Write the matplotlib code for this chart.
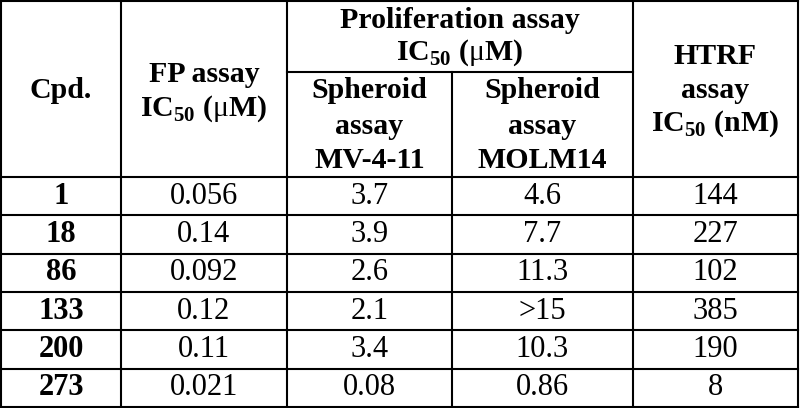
import matplotlib.pyplot as plt

plt.rcParams['font.family'] = ['Liberation Serif', 'DejaVu Serif']
plt.rcParams['mathtext.fontset'] = 'custom'
plt.rcParams['mathtext.rm'] = 'Liberation Serif'
plt.rcParams['mathtext.bf'] = 'Liberation Serif:bold'

# table data
compounds = ["1", "18", "86", "133", "200", "273"]
fp_ic50 = ["0.056", "0.14", "0.092", "0.12", "0.11", "0.021"]
spheroid_mv411 = ["3.7", "3.9", "2.6", "2.1", "3.4", "0.08"]
spheroid_molm14 = ["4.6", "7.7", "11.3", ">15", "10.3", "0.86"]
htrf_ic50 = ["144", "227", "102", "385", "190", "8"]

# header lines
head_cpd = ["Cpd."]
head_fp = ["FP assay", r"IC$_{\mathbf{50}}$ ($\mathrm{\mu}$M)"]
head_prolif = ["Proliferation assay", r"IC$_{\mathbf{50}}$ ($\mathrm{\mu}$M)"]
head_mv = ["Spheroid", "assay", "MV-4-11"]
head_molm = ["Spheroid", "assay", "MOLM14"]
head_htrf = ["HTRF", "assay", r"IC$_{\mathbf{50}}$ (nM)"]

# layout (pixel coordinates)
xs = [1, 121, 287, 452, 633, 798]
top, mid, hb = 1, 72, 177
row_h = 38.3
fs_head = 21.5
fs_body = 22
lw = 1.5

fig = plt.figure(figsize=(8, 4.08), dpi=100)
ax = fig.add_axes([0, 0, 1, 1])
ax.set_xlim(0, 800)
ax.set_ylim(408, 0)
ax.axis("off")

n = len(compounds)
bottom = hb + n * row_h

# outer and column lines
for x in xs:
    if x in (xs[3],):
        ax.plot([x, x], [mid, bottom], color="black", lw=lw)
    else:
        ax.plot([x, x], [top, bottom], color="black", lw=lw)
ax.plot([xs[0], xs[-1]], [top, top], color="black", lw=lw)
ax.plot([xs[2], xs[4]], [mid, mid], color="black", lw=lw)
for i in range(n + 1):
    y = hb + i * row_h
    ax.plot([xs[0], xs[-1]], [y, y], color="black", lw=lw)

def cell_lines(lines, cx, ys):
    for txt, y in zip(lines, ys):
        ax.text(cx, y, txt, ha="center", va="center", fontsize=fs_head,
                fontweight="bold")

def cx(i):
    return (xs[i] + xs[i + 1]) / 2

cell_lines(head_cpd, cx(0), [90])
cell_lines(head_fp, cx(1), [74, 109])
cell_lines(head_prolif, (xs[2] + xs[4]) / 2, [21, 53])
cell_lines(head_mv, cx(2), [90, 126, 160])
cell_lines(head_molm, cx(3), [90, 126, 160])
cell_lines(head_htrf, cx(4), [57, 91, 124])

columns = [compounds, fp_ic50, spheroid_mv411, spheroid_molm14, htrf_ic50]
for j, col in enumerate(columns):
    for i, val in enumerate(col):
        y = hb + (i + 0.5) * row_h
        ax.text(cx(j), y, val, ha="center", va="center", fontsize=fs_body,
                fontweight="bold" if j == 0 else "normal")

fig.savefig("out.png", dpi=100)
